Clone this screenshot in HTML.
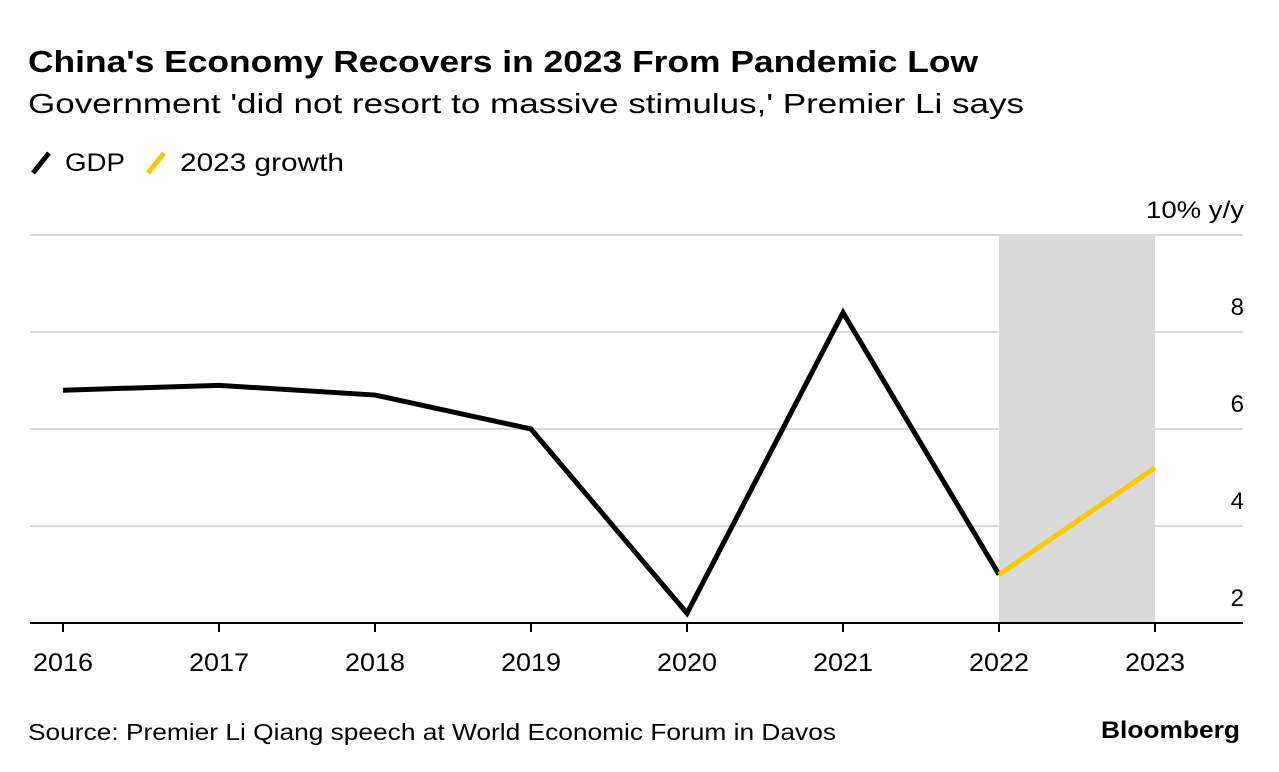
<!DOCTYPE html>
<html><head><meta charset="utf-8"><style>
body{margin:0;background:#fff;width:1279px;height:772px;overflow:hidden;font-family:"Liberation Sans",sans-serif;}
svg{position:absolute;left:0;top:0}
</style></head><body>
<svg width="1279" height="772">
<text x="28" y="72" font-size="31" font-weight="bold" fill="#000" textLength="950" lengthAdjust="spacingAndGlyphs">China's Economy Recovers in 2023 From Pandemic Low</text>
<text x="28" y="113" font-size="28" fill="#000" textLength="996" lengthAdjust="spacingAndGlyphs">Government 'did not resort to massive stimulus,' Premier Li says</text>
<g>
<line x1="33" y1="173" x2="49" y2="153" stroke="#000" stroke-width="5"/>
<text x="65" y="171" font-size="25" textLength="60" lengthAdjust="spacingAndGlyphs">GDP</text>
<line x1="148" y1="173" x2="164" y2="153" stroke="#fcc800" stroke-width="5"/>
<text x="180" y="171" font-size="25" textLength="164" lengthAdjust="spacingAndGlyphs">2023 growth</text>
</g>
<g id="plot"></g>
<text x="28" y="740" font-size="23" fill="#000" textLength="808" lengthAdjust="spacingAndGlyphs">Source: Premier Li Qiang speech at World Economic Forum in Davos</text>
<text x="1101" y="738" font-size="24" font-weight="bold" textLength="139" lengthAdjust="spacingAndGlyphs">Bloomberg</text>
</svg>
<script>
const years=["2016","2017","2018","2019","2020","2021","2022","2023"];
const gdp=[6.8,6.9,6.7,6.0,2.2,8.4,3.0];
const growth2023=[3.0,5.2];
const yTicks=[2,4,6,8,10];
const NS="http://www.w3.org/2000/svg";
const g=document.getElementById('plot');
const x=i=>63+i*156;
const y=v=>623-(v-2)*48.5;
function mk(t,a){const e=document.createElementNS(NS,t);for(const k in a)e.setAttribute(k,a[k]);g.appendChild(e);return e;}
const sh=mk('rect',{x:x(6),y:y(10),width:x(7)-x(6),height:y(2)-y(10),fill:'#dadada'});


yTicks.forEach(v=>{
 if(v>2){const l=mk('line',{x1:30,x2:1243,y1:y(v),y2:y(v),stroke:'#d9d9d9','stroke-width':2});
 
 }
 const t=mk('text',{x:1244,y:y(v)-17,'font-size':24,'text-anchor':'end'});
 if(v===10){t.setAttribute('textLength',98);t.setAttribute('lengthAdjust','spacingAndGlyphs');}
 t.textContent=v===10?'10% y/y':String(v);
 
 
});
const ax=mk('line',{x1:30,x2:1243,y1:y(2),y2:y(2),stroke:'#000','stroke-width':2});


years.forEach((yr,i)=>{
 const tk=mk('line',{x1:x(i),x2:x(i),y1:y(2),y2:y(2)+9,stroke:'#000','stroke-width':2});
 
 
 const t=mk('text',{x:x(i),y:671,'font-size':25,'text-anchor':'middle',textLength:60,lengthAdjust:'spacingAndGlyphs'});
 t.textContent=yr;
 
 
});
const p1=mk('polyline',{points:gdp.map((v,i)=>x(i)+','+y(v)).join(' '),fill:'none',stroke:'#000','stroke-width':5,'stroke-linejoin':'miter'});


const p2=mk('polyline',{points:growth2023.map((v,i)=>x(i+6)+','+y(v)).join(' '),fill:'none',stroke:'#fcc800','stroke-width':5});


</script>
</body></html>
